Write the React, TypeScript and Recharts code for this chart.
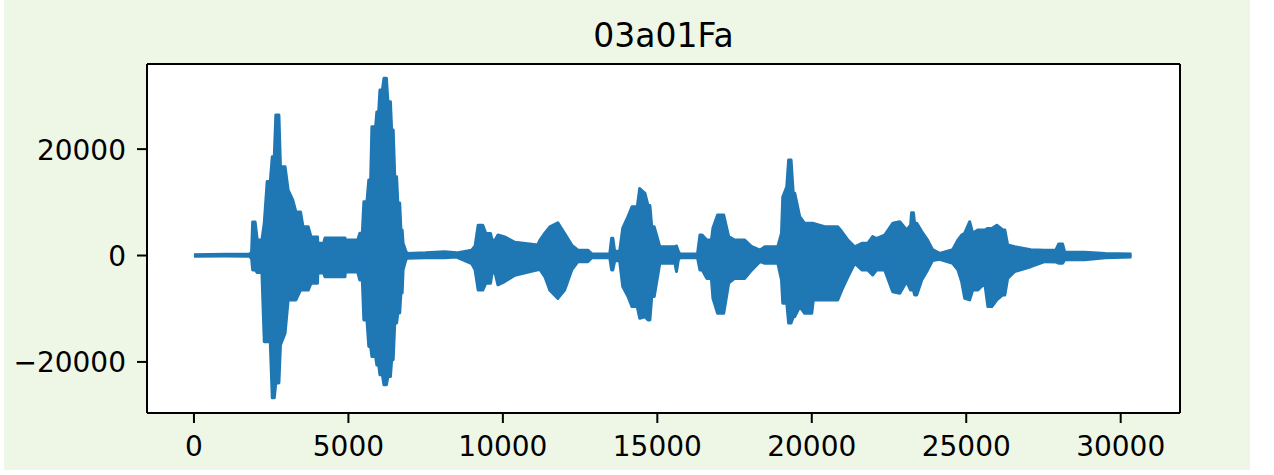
import { Area, AreaChart, CartesianGrid, XAxis, YAxis } from 'recharts'

// envelope of the waveform (sample index, upper peak, lower peak)
const sampleIdx = [
  0, 1000, 1800, 1866, 1900, 1980, 2050, 2200, 2276, 2370, 2470, 2535, 2600, 2650, 2750, 2800,
  2950, 3050, 3200, 3300, 3450, 3530, 3700, 3790, 4000, 4010, 4200, 4240, 4890, 4900, 5300, 5370,
  5450, 5500, 5600, 5660, 5720, 5760, 5880, 5920, 5980, 6020, 6100, 6150, 6230, 6280, 6360, 6400,
  6450, 6500, 6560, 6600, 6660, 6700, 6740, 6770, 6850, 6890, 7500, 8120, 8500, 8990, 9100, 9200,
  9350, 9450, 9600, 9650, 9750, 9840, 10060, 10390, 11130, 11200, 11360, 11520, 11780, 12000, 12230, 12430,
  12750, 12880, 13460, 13520, 13560, 13620, 13780, 13880, 14050, 14180, 14350, 14430, 14600, 14700, 14760, 14820,
  14900, 15080, 15570, 15620, 15680, 15730, 16300, 16380, 16450, 16600, 16750, 16800, 16950, 17150, 17310, 17500,
  17830, 18060, 18320, 18480, 18900, 19020, 19060, 19190, 19250, 19330, 19400, 19450, 19610, 19770, 20000, 20050,
  20420, 20840, 20970, 21170, 21390, 21620, 21810, 21970, 22100, 22360, 22620, 22850, 23070, 23200, 23230, 23290,
  23330, 23400, 23560, 23750, 23910, 24140, 24560, 24730, 24850, 24950, 25110, 25210, 25370, 25600, 25700, 25830,
  25990, 26180, 26250, 26340, 26570, 27090, 27540, 27900, 27990, 28120, 28190, 28830, 29500, 30350,
]

const upperEnv = [
  150, 250, 300, 600, 6300, 6300, 2900, 2900, 6100, 13900, 13900, 18550, 18550, 26400, 26400, 16700,
  16700, 12300, 10400, 8200, 8200, 5400, 5400, 3500, 3500, 2300, 2300, 3300, 3300, 2900, 2900, 4200,
  4200, 10100, 10100, 14200, 14200, 24200, 24200, 27000, 27000, 31100, 31100, 33300, 33300, 28900, 28900, 23600,
  23600, 14800, 14800, 9850, 9850, 4800, 4800, 2300, 1000, 400, 500, 700, 500, 1000, 1800, 5700,
  5700, 4150, 4150, 2900, 2900, 3850, 3500, 2500, 2000, 2900, 4200, 5400, 6150, 4150, 1950, 1000,
  1000, 300, 300, 3250, 3250, 800, 800, 5150, 7300, 9150, 9150, 12600, 11700, 9400, 9400, 5400,
  5400, 1650, 1650, 1800, 800, 300, 300, 3850, 3850, 2900, 2900, 5150, 7600, 7600, 3550, 2900,
  2900, 1650, 1000, 1650, 1650, 4200, 11000, 12900, 17950, 17950, 11700, 11700, 7300, 6050, 6050, 6050,
  5400, 5400, 4500, 2900, 1650, 2300, 2300, 3550, 3200, 3850, 6050, 6350, 4800, 5700, 8050, 8050,
  6050, 6050, 4500, 2900, 1100, 400, 1100, 2900, 3850, 4200, 6350, 4200, 4800, 4800, 5100, 5100,
  5700, 4800, 4800, 2000, 1650, 1100, 1000, 1000, 2150, 2150, 600, 600, 400, 300,
]

const lowerEnv = [
  -150, -100, -150, -600, -2700, -2700, -3200, -3200, -16200, -16200, -16200, -26750, -26750, -23950, -23950, -16800,
  -14600, -8350, -8350, -8350, -6500, -6500, -6500, -5200, -5200, -3300, -3300, -4000, -4000, -3100, -3100, -4600,
  -4600, -12100, -12100, -17100, -17100, -19000, -19000, -20600, -20600, -22400, -22400, -24300, -24300, -22750, -22750, -19600,
  -19600, -12700, -12700, -10800, -10800, -7050, -7050, -2700, -1000, -500, -400, -400, -300, -1500, -2700, -6500,
  -6500, -5200, -5200, -3300, -3300, -5500, -4900, -3700, -2700, -2600, -4000, -6500, -8050, -6500, -2700, -1150,
  -1150, -400, -400, -2700, -2700, -1000, -1000, -5850, -7700, -9600, -9600, -11800, -11500, -12100, -12100, -7700,
  -7700, -1450, -1450, -3000, -800, -400, -400, -2700, -2700, -4300, -4300, -8050, -10850, -10850, -5200, -4300,
  -4300, -2700, -1150, -1450, -1450, -4600, -8950, -8950, -12700, -12700, -11500, -11500, -9600, -10850, -10850, -8350,
  -8350, -8350, -6500, -4000, -1450, -2700, -2700, -3650, -2700, -2700, -6800, -7100, -4900, -6500, -6500, -6500,
  -7400, -7400, -4600, -2700, -950, -700, -1450, -2700, -4900, -8050, -8350, -6500, -6500, -5200, -9600, -9600,
  -8350, -7400, -7400, -4300, -3000, -2100, -1150, -1200, -1450, -1450, -800, -800, -400, -300,
]

const xTicks = [0, 5000, 10000, 15000, 20000, 25000, 30000]
const yTicks = [-20000, 0, 20000]
const title = '03a01Fa'

const waveData = sampleIdx.map((t, i) => ({ t, band: [lowerEnv[i], upperEnv[i]] }))

const FONT = '"DejaVu Sans", sans-serif'
const LINE = '#1f77b4'

function fmt(v: number) {
  return v < 0 ? '\u2212' + Math.abs(v) : String(v)
}

function XTick({ x, y, payload }: any) {
  return (
    <text x={x} y={y + 33} textAnchor="middle" fontSize={28} fontFamily={FONT} fill="#000">
      {fmt(payload.value)}
    </text>
  )
}

function YTick({ x, y, payload }: any) {
  return (
    <text x={x - 11} y={y + 10.5} textAnchor="end" fontSize={28} fontFamily={FONT} fill="#000">
      {fmt(payload.value)}
    </text>
  )
}

export default function App() {
  return (
    <div style={{ position: 'absolute', left: 0, top: 0, width: 1274, height: 475, background: '#fff' }}>
      <div style={{ position: 'absolute', left: 4, top: 0, width: 1246, height: 470, background: '#eef7e6' }}>
        <div
          style={{
            position: 'absolute',
            left: 0,
            top: 19,
            width: 1319,
            textAlign: 'center',
            fontFamily: FONT,
            fontSize: 33,
            lineHeight: '33px',
            color: '#000',
          }}
        >
          {title}
        </div>
        <AreaChart width={1246} height={470} data={waveData} margin={{ top: 63, right: 69, bottom: 0, left: 0 }}>
          <CartesianGrid fill="#fff" horizontal={false} vertical={false} />
          <XAxis
            dataKey="t"
            type="number"
            domain={[-1520, 31920]}
            allowDataOverflow
            ticks={xTicks}
            height={57}
            tickSize={10}
            tickMargin={0}
            tick={<XTick />}
            axisLine={{ stroke: '#000', strokeWidth: 2 }}
            tickLine={{ stroke: '#000', strokeWidth: 2 }}
          />
          {/* top spine */}
          <XAxis
            xAxisId="top"
            orientation="top"
            dataKey="t"
            type="number"
            domain={[-1520, 31920]}
            allowDataOverflow
            height={1}
            tick={false}
            tickLine={false}
            axisLine={{ stroke: '#000', strokeWidth: 2 }}
          />
          <YAxis
            type="number"
            domain={[-29600, 36000]}
            allowDataOverflow
            ticks={yTicks}
            width={143}
            tickSize={10}
            tickMargin={0}
            tick={<YTick />}
            axisLine={{ stroke: '#000', strokeWidth: 2 }}
            tickLine={{ stroke: '#000', strokeWidth: 2 }}
          />
          {/* right spine */}
          <YAxis
            yAxisId="right"
            orientation="right"
            type="number"
            domain={[-29600, 36000]}
            allowDataOverflow
            width={1}
            tick={false}
            tickLine={false}
            axisLine={{ stroke: '#000', strokeWidth: 2 }}
          />
          <Area
            type="linear"
            dataKey="band"
            stroke={LINE}
            strokeWidth={3}
            strokeLinejoin="round"
            fill={LINE}
            fillOpacity={1}
            dot={false}
            activeDot={false}
            isAnimationActive={false}
          />
        </AreaChart>
      </div>
    </div>
  )
}
